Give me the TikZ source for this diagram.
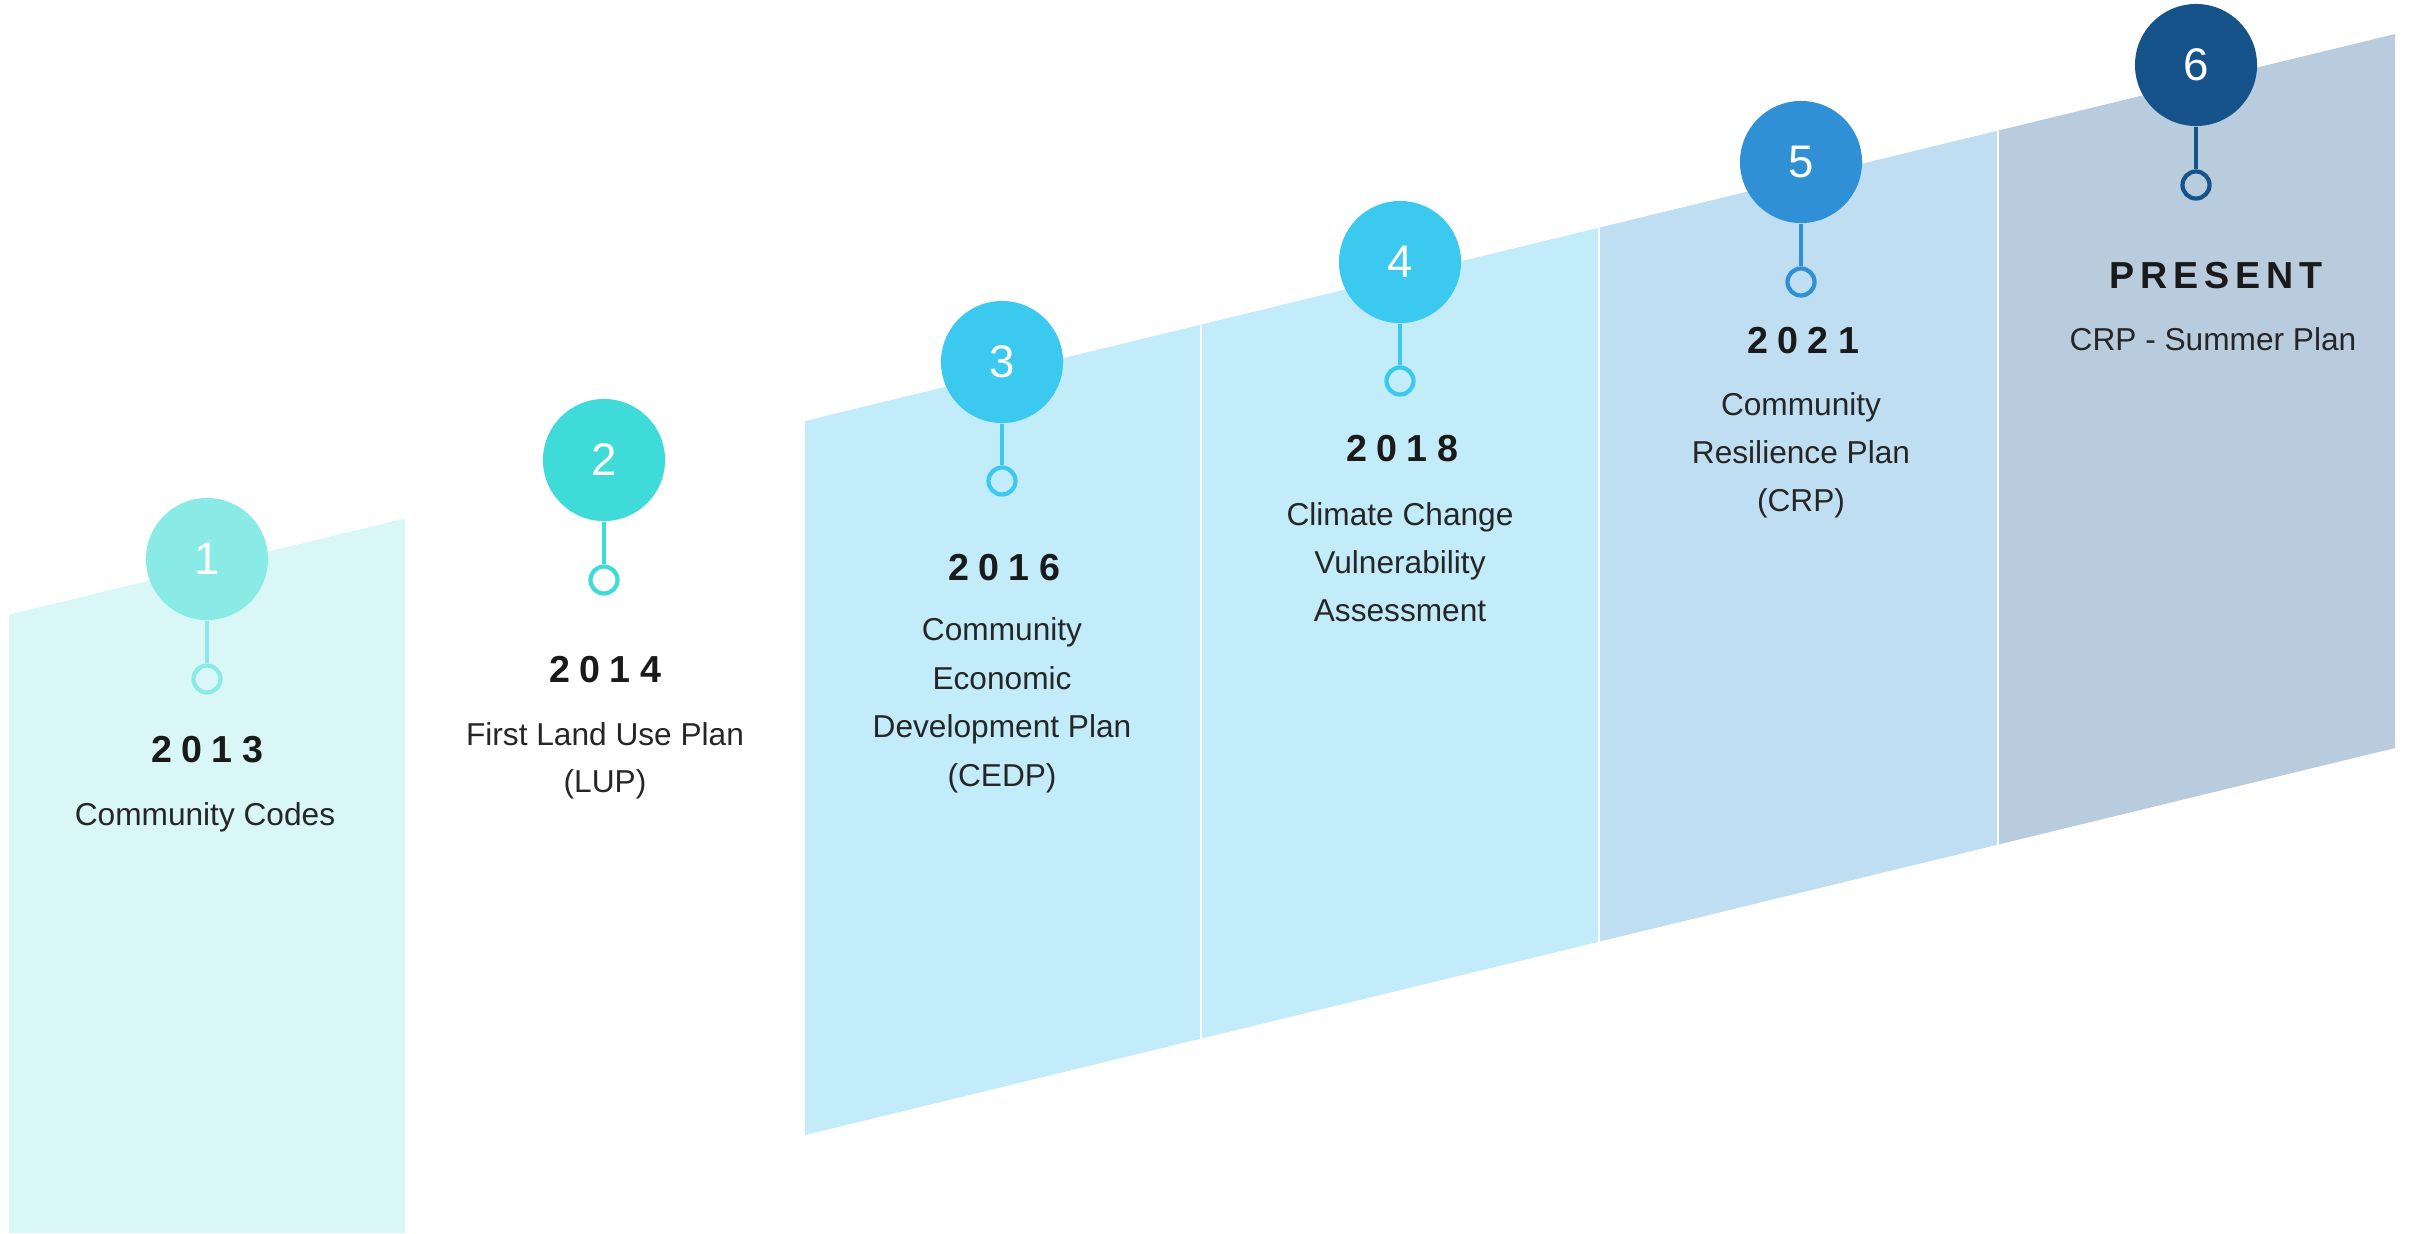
\documentclass[tikz,border=0pt]{standalone}
\usepackage{fontspec}
\setmainfont{Liberation Sans}
\definecolor{pa}{HTML}{D9F7F7}
\definecolor{pb}{HTML}{C2ECF9}
\definecolor{pc}{HTML}{C0DEF2}
\definecolor{pd}{HTML}{B8CCDD}
\definecolor{ca}{HTML}{8AEAE6}
\definecolor{cb}{HTML}{3FDBD8}
\definecolor{cc}{HTML}{3BC9EF}
\definecolor{cd}{HTML}{2F90D6}
\definecolor{ce}{HTML}{16538A}
\definecolor{txtdark}{HTML}{1A1A1A}
\definecolor{txtgray}{HTML}{262626}
\begin{document}
\begin{tikzpicture}[x=0.01cm,y=-0.01cm,
  bignum/.style={circle, minimum size=1.22cm, inner sep=0pt, text=white, font=\fontsize{13}{13}\selectfont},
  pin/.style={circle, minimum size=0.27cm, inner sep=0pt, line width=1.2pt},
  stem/.style={line width=1.3pt},
  yeartxt/.style={anchor=base, text=txtdark, font=\fontsize{10.7}{12}\selectfont\bfseries\addfontfeatures{LetterSpace=25}},
  presenttxt/.style={anchor=base, text=txtdark, font=\fontsize{10.7}{12}\selectfont\bfseries\addfontfeatures{LetterSpace=16}},
  desctxt/.style={anchor=base, text=txtgray, font=\fontsize{9}{10}\selectfont},
  divider/.style={white, line width=0.8pt}
]
\useasboundingbox (0,0) rectangle (2418,1233);
% panels
\fill[pa] (9,614.7) -- (405,518.4) -- (405,1233) -- (9,1233) -- cycle;
\fill[pb] (805,421) -- (1201,324.6) -- (1201,1038.6) -- (805,1135) -- cycle;
\fill[pb] (1201,324.6) -- (1599,227.7) -- (1599,941.7) -- (1201,1038.6) -- cycle;
\fill[pc] (1599,227.7) -- (1998,130.6) -- (1998,844.6) -- (1599,941.7) -- cycle;
\fill[pd] (1998,130.6) -- (2395,34) -- (2395,748) -- (1998,844.6) -- cycle;
\draw[divider] (1201,324.6) -- (1201,1038.6);
\draw[divider] (1599,227.7) -- (1599,941.7);
\draw[divider] (1998,130.6) -- (1998,844.6);
% markers
\node[bignum, fill=ca] (n1) at (207,559) {1};
\node[pin, draw=ca] (p1) at (207,679) {};
\draw[stem, ca] (n1) -- (p1);
\node[bignum, fill=cb] (n2) at (604,460) {2};
\node[pin, draw=cb] (p2) at (604,580) {};
\draw[stem, cb] (n2) -- (p2);
\node[bignum, fill=cc] (n3) at (1002,362) {3};
\node[pin, draw=cc] (p3) at (1002,481) {};
\draw[stem, cc] (n3) -- (p3);
\node[bignum, fill=cc] (n4) at (1400,262) {4};
\node[pin, draw=cc] (p4) at (1400,381) {};
\draw[stem, cc] (n4) -- (p4);
\node[bignum, fill=cd] (n5) at (1801,162) {5};
\node[pin, draw=cd] (p5) at (1801,282) {};
\draw[stem, cd] (n5) -- (p5);
\node[bignum, fill=ce] (n6) at (2196,65) {6};
\node[pin, draw=ce] (p6) at (2196,185) {};
\draw[stem, ce] (n6) -- (p6);
% texts
\node[yeartxt] (y1) at (207,762) {2013};
\node[desctxt] (d1a) at (205,825) {Community Codes};
\node[yeartxt] (y2) at (605,682) {2014};
\node[desctxt] (d2a) at (605,745) {First Land Use Plan};
\node[desctxt] (d2b) at (605,792) {(LUP)};
\node[yeartxt] (y3) at (1004,580) {2016};
\node[desctxt] (d3a) at (1002,640) {Community};
\node[desctxt] (d3b) at (1002,689) {Economic};
\node[desctxt] (d3c) at (1002,737) {Development Plan};
\node[desctxt] (d3d) at (1002,786) {(CEDP)};
\node[yeartxt] (y4) at (1402,461) {2018};
\node[desctxt] (d4a) at (1400,525) {Climate Change};
\node[desctxt] (d4b) at (1400,573) {Vulnerability};
\node[desctxt] (d4c) at (1400,621) {Assessment};
\node[yeartxt] (y5) at (1803,353) {2021};
\node[desctxt] (d5a) at (1801,415) {Community};
\node[desctxt] (d5b) at (1801,463) {Resilience Plan};
\node[desctxt] (d5c) at (1801,511) {(CRP)};
\node[presenttxt] (y6) at (2216,288) {PRESENT};
\node[desctxt] (d6a) at (2213,350) {CRP - Summer Plan};
\end{tikzpicture}
\end{document}
